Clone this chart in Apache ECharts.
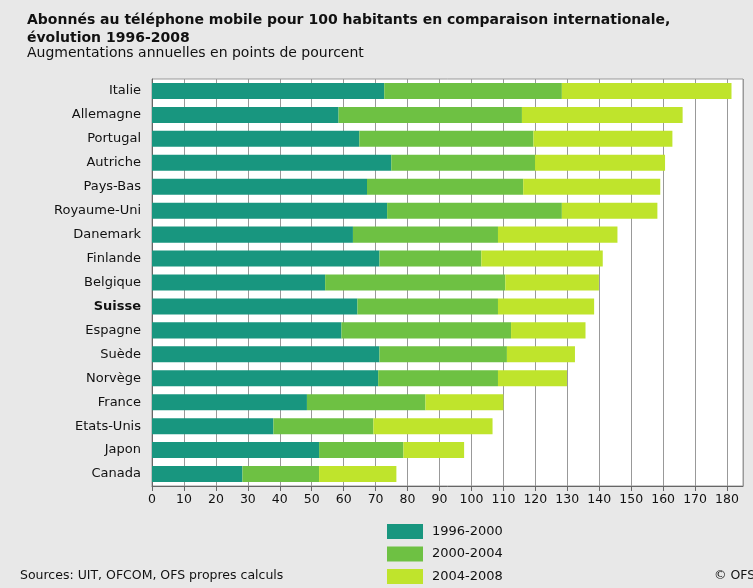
<!DOCTYPE html>
<html>
<head>
<meta charset="utf-8">
<script src="https://cdn.jsdelivr.net/npm/echarts@6/dist/echarts.min.js"></script>
<style>
  html, body { margin: 0; padding: 0; background: #e8e8e8; }
  #chart { width: 753px; height: 588px; }
</style>
</head>
<body>
<div id="chart"></div>
<script>
// Countries, top to bottom
const countries = ['Italie', 'Allemagne', 'Portugal', 'Autriche', 'Pays-Bas', 'Royaume-Uni',
  'Danemark', 'Finlande', 'Belgique', 'Suisse', 'Espagne', 'Suède', 'Norvège', 'France',
  'Etats-Unis', 'Japon', 'Canada'];

// Increase in subscriptions per 100 inhabitants, by period (stacked)
const p1996_2000 = [72.7, 58.4, 64.9, 74.9, 67.3, 73.6, 62.9, 71.2, 54.2, 64.3, 59.3, 71.2, 70.8, 48.5, 38.0, 52.3, 28.3];
const p2000_2004 = [55.6, 57.4, 54.5, 45.0, 48.9, 54.7, 45.4, 31.9, 56.4, 44.0, 53.1, 39.9, 37.5, 37.1, 31.3, 26.4, 24.0];
const p2004_2008 = [53.1, 50.3, 43.5, 40.7, 42.9, 29.9, 37.4, 38.0, 29.3, 30.1, 23.3, 21.3, 21.6, 24.4, 37.3, 19.0, 24.2];

// Axis ticks
const xTicks = { min: 0, max: 185, step: 10 };

const periods = ['1996-2000', '2000-2004', '2004-2008'];
const colors = ['#18967f', '#6ec143', '#bfe42c'];

const font = '"DejaVu Sans", Verdana, sans-serif';
const chart = echarts.init(document.getElementById('chart'));

const seriesData = [p1996_2000, p2000_2004, p2004_2008];
const txt = { fontFamily: font, color: '#111', fontWeight: 'normal' };

chart.setOption({
  backgroundColor: '#e8e8e8',
  animation: false,
  title: [
    {
      text: 'Abonnés au téléphone mobile pour 100 habitants en comparaison internationale,\névolution 1996-2008',
      left: 27, top: 11, padding: 0,
      textStyle: Object.assign({}, txt, { fontSize: 14, fontWeight: 'bold', lineHeight: 18 })
    },
    {
      text: 'Augmentations annuelles en points de pourcent',
      left: 27, top: 46, padding: 0,
      textStyle: Object.assign({}, txt, { fontSize: 14 })
    },
    {
      text: 'Sources: UIT, OFCOM, OFS propres calculs',
      left: 20, top: 569, padding: 0,
      textStyle: Object.assign({}, txt, { fontSize: 12.5 })
    },
    {
      text: '© OFS',
      left: 714, top: 569, padding: 0,
      textStyle: Object.assign({}, txt, { fontSize: 12.5 })
    }
  ],
  // One legend block per period, stacked vertically
  legend: periods.map((name, i) => ({
    left: 387, top: 524 + i * 22.5, padding: 0,
    itemWidth: 36, itemHeight: 15, icon: 'rect',
    data: [name],
    textStyle: Object.assign({}, txt, { fontSize: 13, padding: [0, 0, 0, 4] })
  })),
  grid: {
    left: 152, right: 10, top: 79, bottom: 102,
    show: true, backgroundColor: '#ffffff', borderColor: '#999', borderWidth: 1
  },
  xAxis: {
    type: 'value', min: xTicks.min, max: xTicks.max, interval: xTicks.step,
    axisLine: { show: true, lineStyle: { color: '#666' } },
    axisTick: { show: true, length: 5, lineStyle: { color: '#666' } },
    axisLabel: Object.assign({}, txt, { showMaxLabel: false, fontSize: 12.5, margin: 7 }),
    splitLine: { show: true, lineStyle: { color: '#999', width: 1 } }
  },
  yAxis: {
    type: 'category', inverse: true, data: countries,
    axisLine: { show: true, lineStyle: { color: '#666' } },
    axisTick: { show: false },
    axisLabel: Object.assign({}, txt, {
      fontSize: 13, margin: 11,
      formatter: v => v === 'Suisse' ? '{b|' + v + '}' : v,
      rich: { b: Object.assign({}, txt, { fontSize: 13, fontWeight: 'bold' }) }
    })
  },
  series: periods.map((name, i) => ({
    name: name,
    type: 'bar',
    stack: 'total',
    barCategoryGap: '33%',
    itemStyle: { color: colors[i] },
    data: seriesData[i]
  }))
});
</script>
</body>
</html>
